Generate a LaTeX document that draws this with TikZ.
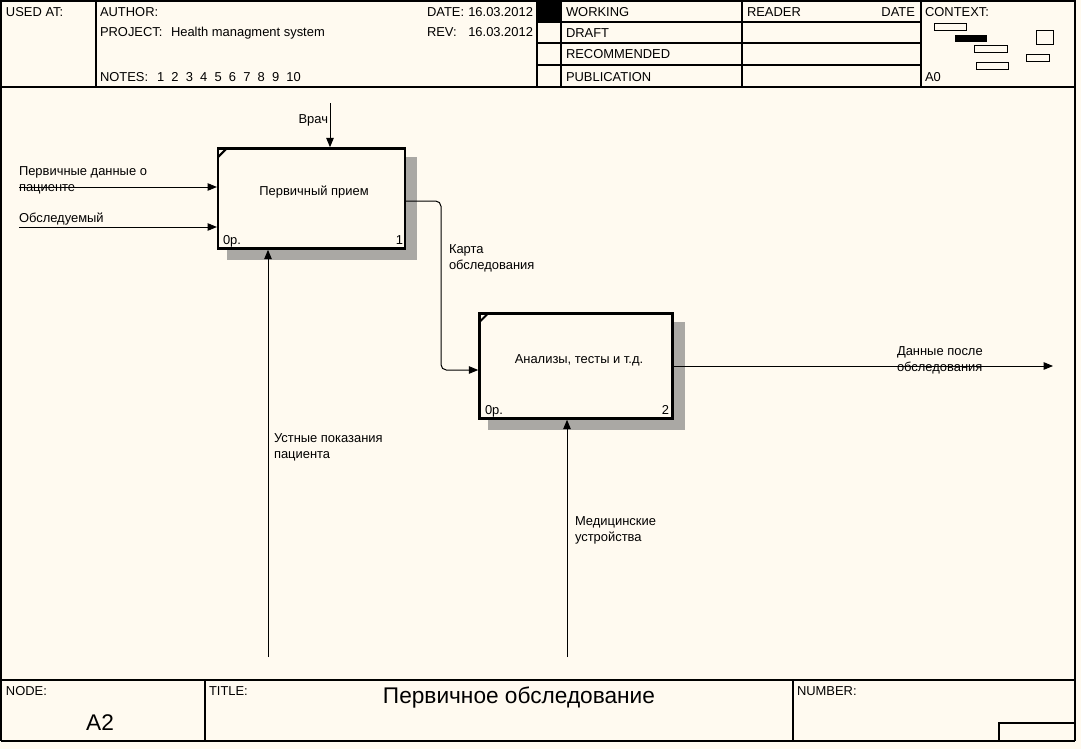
\documentclass[tikz,border=0pt]{standalone}
\usepackage{fontspec}
\setmainfont{Liberation Sans}
\usetikzlibrary{arrows.meta,calc}
\definecolor{bg}{RGB}{255,250,240}
\definecolor{shd}{RGB}{170,168,164}
\begin{document}
\begin{tikzpicture}[x=0.75pt,y=-0.75pt,
  every node/.style={inner sep=0pt,outer sep=0pt,font=\fontsize{9.7}{11.25}\selectfont},
  txt/.style={anchor=base west,align=left},
  txtr/.style={anchor=base east},
  txtc/.style={anchor=base},
  big/.style={font=\fontsize{17}{20}\selectfont},
  frameline/.style={line width=1.1pt},
  rule/.style={line width=0.75pt},
  box/.style={draw,line width=1.9pt,outer sep=0.95pt,fill=bg},
  shade/.style={fill=shd},
  arr/.style={line width=0.75pt,-{Triangle[length=7pt,width=5.6pt]}}
]
\useasboundingbox (0,0) rectangle (1081,749);
\fill[bg] (0,0) rectangle (1081,749);

% ---------- header ----------
\draw[frameline] (1,741) -- (1,1) -- (1075,1) -- (1075,741);
\draw[line width=2.2pt] (1,741) -- (1075,741);
\draw[frameline] (1,87) -- (1075,87);
\draw[frameline] (96,1) -- (96,87);
\draw[frameline] (537,1) -- (537,87);
\draw[frameline] (561,1) -- (561,87);
\draw[frameline] (742,1) -- (742,87);
\draw[frameline] (921,1) -- (921,87);
\draw[frameline] (537,22) -- (921,22);
\draw[frameline] (537,43) -- (921,43);
\draw[frameline] (537,65) -- (921,65);
\fill (537,1) rectangle (561,22);

\node[txt] (usedat) at (6,17) {USED AT:};
\node[txt] (author) at (100,17) {AUTHOR:};
\node[txt] (project) at (100,37) {PROJECT:};
\node[txt] (projname) at (171,37) {Health managment system};
\node[txt] (notes) at (100,81) {NOTES:};
\node[txt] (notenums) at (157,81) {1\ \ 2\ \ 3\ \ 4\ \ 5\ \ 6\ \ 7\ \ 8\ \ 9\ \ 10};
\node[txt] (date) at (427,17) {DATE:};
\node[txtr] (dateval) at (533,17) {16.03.2012};
\node[txt] (rev) at (427,37) {REV:};
\node[txtr] (revval) at (533,37) {16.03.2012};
\node[txt] (working) at (566,17) {WORKING};
\node[txt] (draft) at (566,38) {DRAFT};
\node[txt] (recom) at (566,59) {RECOMMENDED};
\node[txt] (publ) at (566,81) {PUBLICATION};
\node[txt] (reader) at (747,17) {READER};
\node[txtr] (rdate) at (915,17) {DATE};
\node[txt] (context) at (925,17) {CONTEXT:};
\node[txt] (azero) at (925,81) {A0};

\draw[rule] (934,24) rectangle (966,31);
\fill (955,35) rectangle (987,42);
\draw[rule] (974,46) rectangle (1007,53);
\draw[rule] (976,63) rectangle (1008,70);
\draw[rule] (1036,31) rectangle (1053,45);
\draw[rule] (1026,55) rectangle (1049,62);

% ---------- footer ----------
\draw[frameline] (1,680) -- (1075,680);
\draw[frameline] (205,680) -- (205,741);
\draw[frameline] (793,680) -- (793,741);
\draw[frameline] (999,741) -- (999,723) -- (1075,723);
\node[txt] (nodelbl) at (6,695) {NODE:};
\node[txt] (titlelbl) at (209,695) {TITLE:};
\node[txt] (numlbl) at (797,695) {NUMBER:};
\node[txtc,big] (nodeval) at (100,730) {A2};
\node[txtc,big] (titleval) at (519,703) {Первичное обследование};

% ---------- boxes ----------
\node[box,minimum width=140pt,minimum height=75pt] (b1) at (311.5,198.5) {};
\node[box,minimum width=144.75pt,minimum height=78.75pt] (b2) at (576,366) {};
\fill[shade] ($(b1.north east)+(0,10)$) rectangle ($(b1.south east)+(11,10)$);
\fill[shade] ($(b1.south west)+(10,0)$) rectangle ($(b1.south east)+(11,10)$);
\fill[shade] ($(b2.north east)+(0,10)$) rectangle ($(b2.south east)+(11,10)$);
\fill[shade] ($(b2.south west)+(10,0)$) rectangle ($(b2.south east)+(11,10)$);
\draw[line width=1.5pt] ($(b1.north west)+(1,10)$) -- ($(b1.north west)+(10,1)$);
\draw[line width=1.5pt] ($(b2.north west)+(1,10)$) -- ($(b2.north west)+(10,1)$);

\node[txtc] (b1text) at (314,195) {Первичный прием};
\node[txt] (b1op) at (223,244) {0р.};
\node[txtr] (b1num) at (403,244) {1};
\node[txtc] (b2text) at (579,363) {Анализы, тесты и т.д.};
\node[txt] (b2op) at (485,414) {0р.};
\node[txtr] (b2num) at (669,414) {2};

% ---------- arrows ----------
\coordinate (vrach) at (330,103);
\coordinate (in1) at (19,187);
\coordinate (in2) at (19,227);
\coordinate (m1) at (268,657);
\coordinate (m2) at (567,657);
\coordinate (out2) at (1053,366);
\coordinate (k1) at (441,201);
\coordinate (k2) at (441,370);

\draw[arr] (vrach) -- (vrach |- b1.north);
\draw[arr] (in1) -- (in1 -| b1.west);
\draw[arr] (in2) -- (in2 -| b1.west);
\draw[arr] (m1) -- (m1 |- b1.south);
\draw[arr] (m2) -- (m2 |- b2.south);
\draw[arr] (b2.east |- out2) -- (out2);
\draw[arr,rounded corners=4pt] (b1.east |- k1) -- (k1) -- (k2) -- (k2 -| b2.west);

\node[txtr] (vrachlbl) at (328,123) {Врач};
\node[txt] (in1lbl) at (19,191) {Первичные данные о\\[0.5pt]пациенте};
\node[txt] (in2lbl) at (19,222) {Обследуемый};
\node[txt] (kartalbl) at (449,269) {Карта\\[0.5pt]обследования};
\node[txt] (m1lbl) at (274,458) {Устные показания\\[0.5pt]пациента};
\node[txt] (m2lbl) at (575,541) {Медицинские\\[0.5pt]устройства};
\node[txt] (outlbl) at (897,371) {Данные после\\[0.5pt]обследования};
\end{tikzpicture}
\end{document}
